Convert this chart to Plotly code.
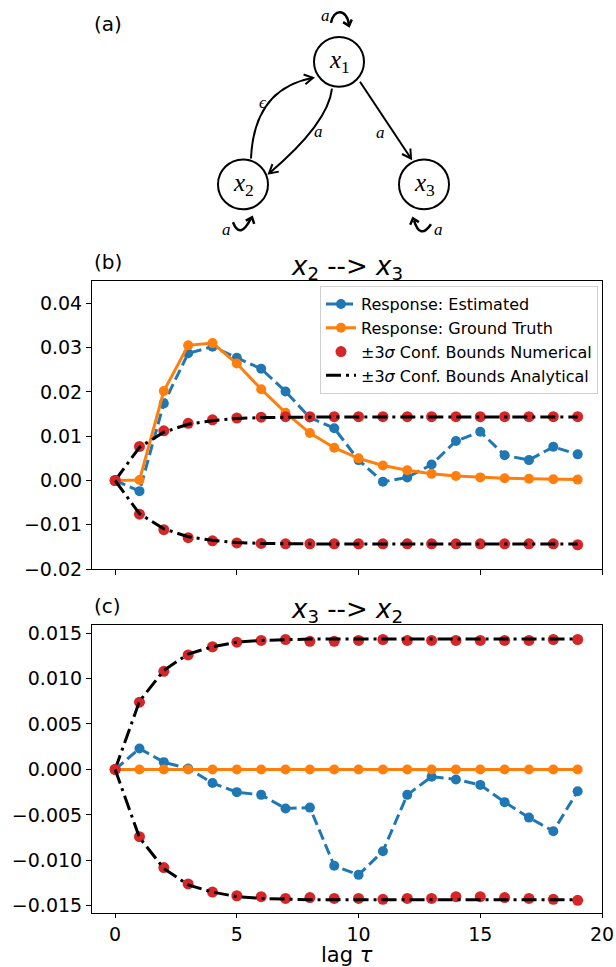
import math
import plotly.graph_objects as go

# ---------------- data ----------------
lags = list(range(20))
x_tickvals = [0, 5, 10, 15, 20]
x_ticktext = ["0", "5", "10", "15", "20"]

b_tickvals = [0.04, 0.03, 0.02, 0.01, 0.0, -0.01, -0.02]
b_ticktext = ["0.04", "0.03", "0.02", "0.01", "0.00", "\u22120.01", "\u22120.02"]
c_tickvals = [0.015, 0.010, 0.005, 0.0, -0.005, -0.010, -0.015]
c_ticktext = ["0.015", "0.010", "0.005", "0.000", "\u22120.005", "\u22120.010", "\u22120.015"]

b_est = [0, -0.0024, 0.0174, 0.0287, 0.0302, 0.0277, 0.0252, 0.0201, 0.0142, 0.0118,
         0.0046, -0.0003, 0.0007, 0.0036, 0.0089, 0.0110, 0.0057, 0.0046, 0.0076, 0.0059]
b_true = [0, 0.0001, 0.0202, 0.0305, 0.0310, 0.0264, 0.0206, 0.0153, 0.0107, 0.0074,
          0.0050, 0.0034, 0.0023, 0.0015, 0.0010, 0.0007, 0.0005, 0.0004, 0.0003, 0.0002]
b_num_up = [0, 0.0077, 0.0112, 0.0129, 0.0137, 0.0141, 0.0143, 0.0144, 0.0144, 0.0144,
            0.0144, 0.0144, 0.0144, 0.0144, 0.0144, 0.0144, 0.0144, 0.0144, 0.0144, 0.0144]
b_num_lo = [0, -0.0076, -0.0111, -0.0129, -0.0136, -0.0141, -0.0142, -0.0143, -0.0143, -0.0143,
            -0.0143, -0.0143, -0.0143, -0.0143, -0.0143, -0.0143, -0.0143, -0.0143, -0.0143, -0.0145]

c_est = [0, 0.0023, 0.0008, 0.0001, -0.0015, -0.0025, -0.0028, -0.0043, -0.0042, -0.0106,
         -0.0116, -0.0090, -0.0028, -0.0008, -0.0011, -0.0017, -0.0036, -0.0053, -0.0068, -0.0024]
c_true = [0] * 20
c_num_up = [0, 0.0074, 0.0108, 0.0126, 0.0135, 0.0140, 0.0142, 0.0143, 0.0141, 0.0141,
            0.0142, 0.0143, 0.0142, 0.0142, 0.0142, 0.0142, 0.0142, 0.0142, 0.0143, 0.0143]
c_num_lo = [0, -0.0074, -0.0108, -0.0126, -0.0135, -0.0139, -0.0140, -0.0142, -0.0141, -0.0142,
            -0.0142, -0.0143, -0.0142, -0.0142, -0.0140, -0.0140, -0.0141, -0.0142, -0.0143, -0.0144]

ana_up = [0, 0.0075, 0.0109, 0.0127, 0.0135, 0.0140, 0.0142, 0.0143, 0.01435, 0.01435,
          0.01435, 0.01435, 0.01435, 0.01435, 0.01435, 0.01435, 0.01435, 0.01435, 0.01435, 0.01435]
ana_lo = [-v for v in ana_up]

BLUE, ORANGE, RED, BLACK = "#1f77b4", "#ff7f0e", "#d62728", "#000000"
FONT = "DejaVu Sans"

# ---------------- geometry helpers ----------------
W, H = 616, 967
L, R, T, B = 92, 14, 0, 54
PW, PH = W - L - R, H - T - B


def px(x):
    return (x - L) / PW


def py(y):
    return (H - B - y) / PH


fig = go.Figure()
DASHDOT = "15px,5px,3px,5px"


def add_panel(xa, ya, est, true, nup, nlo, show):
    fig.add_trace(go.Scatter(x=lags, y=est, xaxis=xa, yaxis=ya, mode="lines+markers",
                             name="Response: Estimated", showlegend=show,
                             line=dict(color=BLUE, width=3, dash="11px,5px"),
                             marker=dict(color=BLUE, size=10)))
    fig.add_trace(go.Scatter(x=lags, y=true, xaxis=xa, yaxis=ya, mode="lines+markers",
                             name="Response: Ground Truth", showlegend=show,
                             line=dict(color=ORANGE, width=3),
                             marker=dict(color=ORANGE, size=10)))
    fig.add_trace(go.Scatter(x=lags, y=nup, xaxis=xa, yaxis=ya, mode="markers",
                             name="\u00b13<i>\u03c3</i> Conf. Bounds Numerical", showlegend=show,
                             marker=dict(color=RED, size=11)))
    fig.add_trace(go.Scatter(x=lags, y=ana_up, xaxis=xa, yaxis=ya, mode="lines",
                             name="\u00b13<i>\u03c3</i> Conf. Bounds Analytical", showlegend=show,
                             line=dict(color=BLACK, width=3, dash=DASHDOT)))
    fig.add_trace(go.Scatter(x=lags, y=nlo, xaxis=xa, yaxis=ya, mode="markers",
                             showlegend=False, marker=dict(color=RED, size=11)))
    fig.add_trace(go.Scatter(x=lags, y=ana_lo, xaxis=xa, yaxis=ya, mode="lines",
                             showlegend=False,
                             line=dict(color=BLACK, width=3, dash=DASHDOT)))


add_panel("x", "y", b_est, b_true, b_num_up, b_num_lo, True)
add_panel("x2", "y2", c_est, c_true, c_num_up, c_num_lo, False)

axis_common = dict(showline=True, mirror=True, linecolor="black", linewidth=1,
                   ticks="outside", tickwidth=1, tickcolor="black",
                   showgrid=False, zeroline=False,
                   tickfont=dict(family=FONT, size=19, color="black"))

# ---------------- diagram (a) ----------------
shapes = []
nodes = {"1": (339, 59), "2": (243, 182), "3": (424, 182)}
rad = 25
for k, (cx, cy) in nodes.items():
    shapes.append(dict(type="circle", xref="x3", yref="y3", x0=cx - rad, x1=cx + rad,
                       y0=cy - rad, y1=cy + rad, line=dict(color="black", width=2)))


def head(tip, d, size=10, ang=30):
    dx, dy = d
    n = math.hypot(dx, dy)
    ux, uy = dx / n, dy / n
    pts = []
    for s in (1, -1):
        a = math.radians(180 + s * ang)
        rx = ux * math.cos(a) - uy * math.sin(a)
        ry = ux * math.sin(a) + uy * math.cos(a)
        pts.append((tip[0] + size * rx, tip[1] + size * ry))
    return "M {:.1f},{:.1f} L {:.1f},{:.1f} L {:.1f},{:.1f}".format(
        pts[0][0], pts[0][1], tip[0], tip[1], pts[1][0], pts[1][1])


def path(p, w=2):
    shapes.append(dict(type="path", xref="x3", yref="y3", path=p,
                       line=dict(color="black", width=w)))


# x1 -> x3 straight
p0, p2 = (360, 79), (411, 156)
path("M {},{} L {},{}".format(*p0, *p2))
path(head(p2, (p2[0] - p0[0], p2[1] - p0[1])))
# x1 -> x2 curved
p0, c, p2 = (332, 86), (328, 121), (269, 171)
path("M {},{} Q {},{} {},{}".format(*p0, *c, *p2))
path(head(p2, (p2[0] - c[0], p2[1] - c[1])))
# x2 -> x1 curved (epsilon)
p0, c, p2 = (251, 156), (254, 86), (313, 75)
path("M {},{} Q {},{} {},{}".format(*p0, *c, *p2))
path(head(p2, (p2[0] - c[0], p2[1] - c[1])))
# self loops
path("M 331,20 C 333,6 347,5 349,22", 2.5)
path(head((349, 23), (0.3, 1), size=7, ang=40), 2.5)
path("M 233,220 Q 240,238 251,216", 2.5)
path(head((252, 215), (0.4, -1), size=7, ang=40), 2.5)
path("M 414,218 Q 420,238 431,222", 2.5)
path(head((413, 216), (-0.3, -1), size=7, ang=40), 2.5)

annotations = []


def ann(text, x, y, size, family=FONT, xanchor="center", yanchor="middle", pad=1):
    annotations.append(dict(text=text, x=px(x), y=py(y), xref="paper", yref="paper",
                            showarrow=False, xanchor=xanchor, yanchor=yanchor, borderpad=pad,
                            font=dict(family=family, size=size, color="black")))


SERIF = "Liberation Serif"
for k, (cx, cy) in nodes.items():
    ann("<i>x</i><sub>" + k + "</sub>", cx, cy, 25, SERIF)
ann("<i>a</i>", 325, 13, 17, SERIF)
ann("<i>a</i>", 226, 227, 17, SERIF)
ann("<i>a</i>", 438, 227, 17, SERIF)
ann("<i>\u03f5</i>", 263, 100, 17, SERIF)
ann("<i>a</i>", 318, 129, 17, SERIF)
ann("<i>a</i>", 380, 130, 17, SERIF)

ann("(a)", 92, 21, 20, xanchor="left")
ann("(b)", 92, 260, 20, xanchor="left")
ann("(c)", 92, 605, 20, xanchor="left")
ann("<i>x</i><sub>2</sub> --> <i>x</i><sub>3</sub>", 347, 265, 26)
ann("<i>x</i><sub>3</sub> --> <i>x</i><sub>2</sub>", 347, 610, 26)
ann("lag <i>\u03c4</i>", 347, 955, 21, pad=0)

fig.update_layout(
    width=W, height=H,
    margin=dict(l=L, r=R, t=T, b=B, pad=0),
    paper_bgcolor="white", plot_bgcolor="white",
    font=dict(family=FONT, color="black"),
    xaxis=dict(domain=[0, 1], anchor="y", range=[-0.95, 20.0], tickvals=x_tickvals,
               ticktext=x_ticktext, showticklabels=False, ticklen=5, **axis_common),
    yaxis=dict(domain=[py(568), py(279)], anchor="x", range=[-0.02, 0.045], ticklen=5,
               tickvals=b_tickvals, ticktext=b_ticktext, **axis_common),
    xaxis2=dict(domain=[0, 1], anchor="y2", range=[-0.95, 20.0], tickvals=x_tickvals,
                ticktext=x_ticktext, ticklen=4, **axis_common),
    yaxis2=dict(domain=[py(913), py(624)], anchor="x2", range=[-0.0158, 0.0159], ticklen=5,
                tickvals=c_tickvals, ticktext=c_ticktext, **axis_common),
    xaxis3=dict(domain=[0, 1], anchor="y3", range=[L, W - R], visible=False, fixedrange=True),
    yaxis3=dict(domain=[py(240), 1], anchor="x3", range=[240, 0], visible=False, fixedrange=True),
    legend=dict(x=px(598), y=py(284), xanchor="right", yanchor="top",
                font=dict(family=FONT, size=16, color="black"),
                bgcolor="rgba(255,255,255,0.8)", bordercolor="#d0d0d0", borderwidth=1,
                tracegroupgap=0),
    shapes=shapes,
    annotations=annotations,
)

fig.write_html("out.html")
